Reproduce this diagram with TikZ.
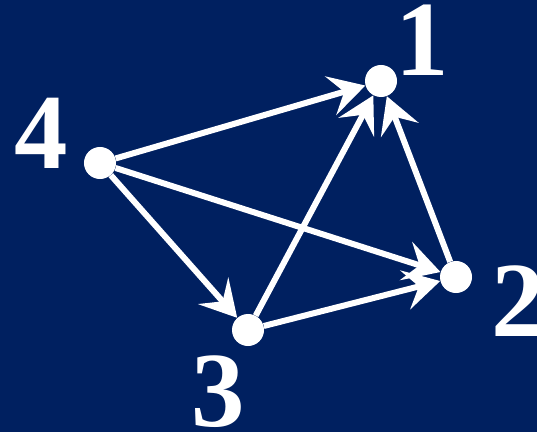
\documentclass[tikz,border=0pt]{standalone}
\usepackage{fontspec}
\setmainfont{Liberation Serif}
\usetikzlibrary{arrows.meta,positioning}
\definecolor{deepnavy}{HTML}{002060}
\tikzset{
  vertex/.style={circle,fill=white,inner sep=0pt,minimum size=0.8cm},
  numlabel/.style={text=white,font=\fontsize{76}{76}\selectfont\bfseries,inner sep=0pt},
  edge/.style={-{Stealth[length=0.9cm,width=1cm,inset=0.35cm]},draw=white,line width=0.15cm}
}
\begin{document}
\begin{tikzpicture}[x=0.025cm,y=-0.025cm]
  \fill[deepnavy] (0,0) rectangle (537,432);
  \useasboundingbox (0,0) rectangle (537,432);

  \node[vertex] (v1) at (381,81) {};
  \node[vertex] (v2) at (456,277) {};
  \node[vertex] (v3) at (248,330) {};
  \node[vertex] (v4) at (100,163) {};

  \node[numlabel] (n1) at (422,40) {1};
  \node[numlabel] (n2) at (518,301) {2};
  \node[numlabel] (n3) at (218,392) {3};
  \node[numlabel] (n4) at (41,133) {4};

  \draw[edge] (v4)--(v1);
  \draw[edge] (v4)--(v2);
  \draw[edge] (v4)--(v3);
  \draw[edge] (v3)--(v1);
  \draw[edge] (v3)--(v2);
  \draw[edge] (v2)--(v1);
\end{tikzpicture}
\end{document}
